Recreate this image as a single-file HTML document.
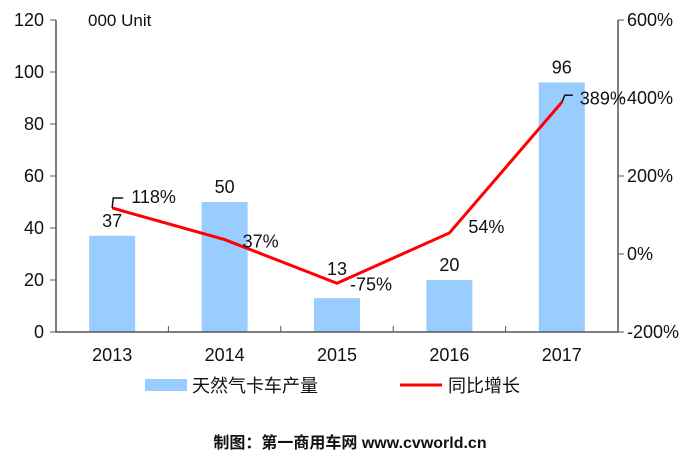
<!DOCTYPE html>
<html><head><meta charset="utf-8"><style>
body{margin:0;background:#fff;}
svg text{font-family:"Liberation Sans","Noto Sans CJK SC",sans-serif;fill:#111;}
</style></head><body>
<svg width="700" height="460" viewBox="0 0 700 460">
<g id="g"></g>
</svg>
<script>
const categories=["2013","2014","2015","2016","2017"];
const production=[37,50,13,20,96];
const growth=[118,37,-75,54,389];
const leftTicks=[0,20,40,60,80,100,120];
const rightTicks=[-200,0,200,400,600];
const NS="http://www.w3.org/2000/svg";
const g=document.getElementById('g');
const L=56,R=618,T=20,B=332;
const bw=(R-L)/categories.length;
const xc=i=>L+bw*(i+0.5);
const yl=v=>B-(v/120)*(B-T);
const yr=v=>B-((v+200)/800)*(B-T);
function el(t,a,txt){const e=document.createElementNS(NS,t);for(const k in a)e.setAttribute(k,a[k]);if(txt!==undefined)e.textContent=txt;g.appendChild(e);return e;}
// bars
production.forEach((v,i)=>{
 const r=el('rect',{x:xc(i)-23,y:yl(v),width:46,height:B-yl(v),fill:'#99ccff'});
 
 
 const off=(i===2)?23:9;
 const t=el('text',{x:xc(i),y:yl(v)-off,'text-anchor':'middle','font-size':18},String(v));
 
 
});
// axes
const ax=el('path',{d:`M${L},${T}V${B}H${R}V${T}`,stroke:'#555',fill:'none','stroke-width':1.5});


leftTicks.forEach(v=>{
 el('line',{x1:L-6,x2:L,y1:yl(v),y2:yl(v),stroke:'#555'});
 const t=el('text',{x:L-12,y:yl(v)+6,'text-anchor':'end','font-size':18},String(v));
 
 
});
rightTicks.forEach(v=>{
 el('line',{x1:R,x2:R+6,y1:yr(v),y2:yr(v),stroke:'#555'});
 const t=el('text',{x:R+9,y:yr(v)+6,'font-size':18},v+'%');
 
 
});
for(let i=1;i<categories.length;i++)el('line',{x1:L+bw*i,x2:L+bw*i,y1:B-6,y2:B,stroke:'#555'});
categories.forEach((c,i)=>{
 const t=el('text',{x:xc(i),y:B+29,'text-anchor':'middle','font-size':18},c);
 
 
});
// line
const pts=growth.map((v,i)=>xc(i)+','+yr(v)).join(' ');
const pl=el('polyline',{points:pts,fill:'none',stroke:'#ff0000','stroke-width':3});


const lblDx=[19,18,13,19,18];
const lblDy=[-5,8,7,0,2];
growth.forEach((v,i)=>{
 const x=xc(i),y=yr(v);
 if(i===0)el('path',{d:`M${x},${y}l1,-10h10`,stroke:'#111',fill:'none','stroke-width':1.5});
 if(i===4)el('path',{d:`M${x},${y}l3,-7h8`,stroke:'#111',fill:'none','stroke-width':1.5});
 const t=el('text',{x:x+lblDx[i],y:y+lblDy[i],'font-size':18},v+'%');
 
 
});
const u=el('text',{x:88,y:26,'font-size':17},'000 Unit');


// legend
const lr=el('rect',{x:145,y:379,width:42,height:12,fill:'#99ccff'});


const lt=el('text',{x:192,y:392,'font-size':18},'天然气卡车产量');


const ll=el('line',{x1:400,x2:442,y1:385,y2:385,stroke:'#ff0000','stroke-width':3});


const lt2=el('text',{x:448,y:392,'font-size':18},'同比增长');


const s=el('text',{x:350,y:448,'text-anchor':'middle','font-size':16,'font-weight':'bold','font-family':'Liberation Serif,Noto Serif CJK SC,serif'},'制图：第一商用车网 www.cvworld.cn');


</script>
</body></html>
